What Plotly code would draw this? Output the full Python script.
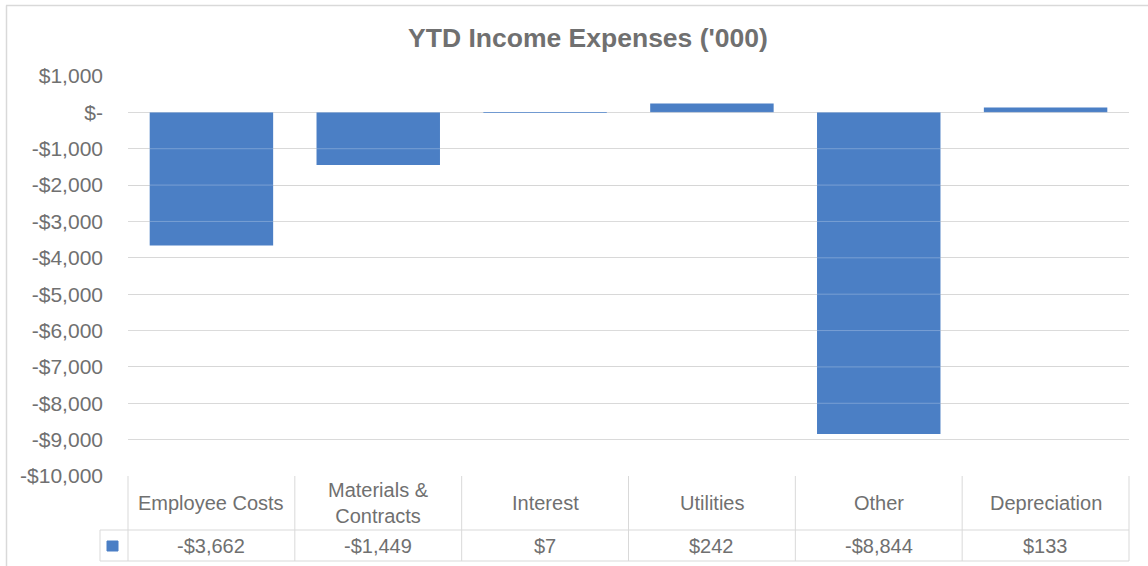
"""YTD Income Expenses ('000) - Excel-style bar chart with a data table underneath."""
import plotly.graph_objects as go

categories = ["Employee Costs", "Materials & Contracts", "Interest", "Utilities", "Other", "Depreciation"]
header_labels = ["Employee Costs", "Materials &<br>Contracts", "Interest", "Utilities", "Other", "Depreciation"]
values = [-3662, -1449, 7, 242, -8844, 133]
y_ticks = [1000, 0, -1000, -2000, -3000, -4000, -5000, -6000, -7000, -8000, -9000, -10000]

FONT = "Liberation Sans, Arial, sans-serif"
TEXT = "#707070"
GRID = "#D0D0D0"
BORDER = "#D9D9D9"
BAR = "#4B7FC5"

W, H = 1148, 566
L, R, T, B = 128, 19, 76, 90  # plot area: x 128..1129, y 76..476
PW, PH = W - L - R, H - T - B


def px_x(px):
    return (px - L) / PW


def px_y(py):
    return (H - B - py) / PH


def money(v):
    if v == 0:
        return "$-"
    return ("-" if v < 0 else "") + "${:,.0f}".format(abs(v))


fig = go.Figure(go.Bar(
    x=categories, y=values,
    marker=dict(color=BAR, line_width=0),
    hoverinfo="x+y",
))

shapes = []
# soft grid lines over the bars, as in the Excel render
for t in y_ticks:
    shapes.append(dict(type="line", xref="paper", yref="y", x0=0, x1=1, y0=t, y1=t,
                       line=dict(color="rgba(255,255,255,0.25)", width=1), layer="above"))

# data table grid
row_mid = px_y(530)
row_bot = px_y(561)
key_left = px_x(100)
for i in range(len(categories) + 1):
    shapes.append(dict(type="line", xref="paper", yref="paper", x0=i / len(categories), x1=i / len(categories),
                       y0=0, y1=row_bot, line=dict(color=BORDER, width=1)))
for yy in (row_mid, row_bot):
    shapes.append(dict(type="line", xref="paper", yref="paper", x0=key_left, x1=1, y0=yy, y1=yy,
                       line=dict(color=BORDER, width=1)))
shapes.append(dict(type="line", xref="paper", yref="paper", x0=key_left, x1=key_left, y0=row_mid, y1=row_bot,
                   line=dict(color=BORDER, width=1)))
# legend key
shapes.append(dict(type="rect", xref="paper", yref="paper", x0=px_x(107), x1=px_x(118), y0=px_y(551), y1=px_y(541),
                   fillcolor=BAR, line=dict(color=BAR, width=1)))
# chart frame (top + left edge)
shapes.append(dict(type="line", xref="paper", yref="paper", x0=px_x(6), x1=px_x(1148), y0=px_y(5.5), y1=px_y(5.5),
                   line=dict(color=BORDER, width=1.5)))
shapes.append(dict(type="line", xref="paper", yref="paper", x0=px_x(6.5), x1=px_x(6.5), y0=px_y(5.5), y1=px_y(566),
                   line=dict(color=BORDER, width=1.5)))

annotations = []
head_y = px_y(503)
val_y = px_y(545.5)
for cat, lab, v in zip(categories, header_labels, values):
    annotations.append(dict(x=cat, y=head_y, xref="x", yref="paper", text=lab, showarrow=False,
                            yanchor="middle", font=dict(size=20, color=TEXT, family=FONT)))
    annotations.append(dict(x=cat, y=val_y, xref="x", yref="paper", text=money(v), showarrow=False,
                            yanchor="middle", font=dict(size=20, color=TEXT, family=FONT)))

fig.update_layout(
    width=W, height=H,
    margin=dict(l=L, r=R, t=T, b=B),
    paper_bgcolor="white", plot_bgcolor="white",
    font=dict(family=FONT, color=TEXT, size=20),
    title=dict(text="<b>YTD Income Expenses ('000)</b>", x=588 / W, xref="container", xanchor="center",
               y=1 - 38 / H, yref="container", yanchor="middle",
               font=dict(size=26.5, color=TEXT, family=FONT)),
    bargap=0.26,
    showlegend=False,
    shapes=shapes,
    annotations=annotations,
    xaxis=dict(range=[-0.5, len(categories) - 0.5], showticklabels=False, showgrid=False,
               zeroline=False, showline=False, ticks=""),
    yaxis=dict(range=[-10000, 1000], tickvals=y_ticks, ticktext=[money(t) for t in y_ticks],
               showgrid=True, gridcolor=GRID, gridwidth=1, zeroline=False, showline=False, ticks="",
               ticklabelstandoff=24, tickfont=dict(size=21, color=TEXT, family=FONT)),
)

# drop the default page margin so the figure sits at the window's top-left corner
fig.write_html("out.html", config={"displayModeBar": False},
               post_script="document.body.style.margin='0';")
